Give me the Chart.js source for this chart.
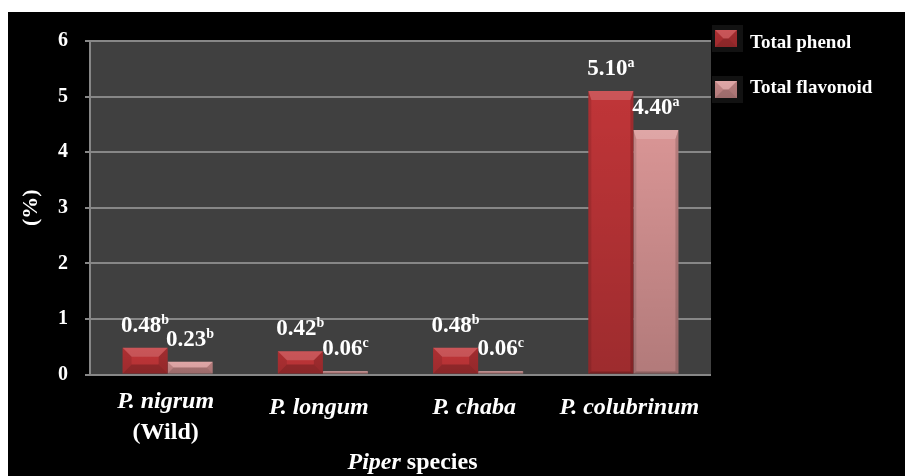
<!DOCTYPE html>
<html>
<head>
<meta charset="utf-8">
<script src="https://cdn.jsdelivr.net/npm/chart.js@4.4.1/dist/chart.umd.min.js"></script>
<style>
    html, body { margin: 0; padding: 0; background: #fff; }
    #wrap { position: absolute; left: 8px; top: 12px; width: 897px; height: 464px; background: #000; }
</style>
</head>
<body>
<div id="wrap"><canvas id="myChart"></canvas></div>
<script>
// data
const species = [['P. nigrum', '(Wild)'], ['P. longum'], ['P. chaba'], ['P. colubrinum']];
const totalPhenol = [0.48, 0.42, 0.48, 5.10];
const totalFlavonoid = [0.23, 0.06, 0.06, 4.40];
const phenolLetters = ['b', 'b', 'b', 'a'];
const flavonoidLetters = ['b', 'c', 'c', 'a'];
const seriesNames = ['Total phenol', 'Total flavonoid'];
const yTickMax = 6;

const SERIF = "'Liberation Serif', 'Times New Roman', serif";
const redColor = '#c03538';
const pinkColor = '#d99595';

function poly(ctx, pts, fill) {
    ctx.beginPath();
    ctx.moveTo(pts[0][0], pts[0][1]);
    for (let i = 1; i < pts.length; i++) ctx.lineTo(pts[i][0], pts[i][1]);
    ctx.closePath();
    ctx.fillStyle = fill;
    ctx.fill();
}

// bevelled "3D" look on top of a plain rectangle
function bevel(ctx, x0, x1, y0, y1) {
    const h = y1 - y0, w = x1 - x0;
    // darker towards the base
    const g = ctx.createLinearGradient(0, y0, 0, y1);
    g.addColorStop(0, 'rgba(0,0,0,0)');
    g.addColorStop(1, h > 40 ? 'rgba(0,0,0,0.18)' : 'rgba(0,0,0,0.08)');
    ctx.fillStyle = g;
    ctx.fillRect(x0, y0, w, h);
    const d = Math.min(9, h / 2, w / 2);
    const s = h > 40 ? 3 : d;
    const b = h > 40 ? 2 : d;
    poly(ctx, [[x0, y0], [x1, y0], [x1 - s, y0 + d], [x0 + s, y0 + d]], 'rgba(255,255,255,0.16)');
    poly(ctx, [[x0, y1], [x1, y1], [x1 - s, y1 - b], [x0 + s, y1 - b]], 'rgba(0,0,0,0.22)');
    poly(ctx, [[x0, y0], [x0 + s, y0 + d], [x0 + s, y1 - b], [x0, y1]], 'rgba(0,0,0,0.10)');
    poly(ctx, [[x1, y0], [x1 - s, y0 + d], [x1 - s, y1 - b], [x1, y1]], 'rgba(0,0,0,0.16)');
}

const darkPlot = {
    id: 'darkPlot',
    beforeDraw(chart) {
        const { ctx, chartArea: a } = chart;
        ctx.save();
        ctx.fillStyle = '#404040';
        ctx.fillRect(a.left, a.top, a.right - a.left, a.bottom - a.top);
        ctx.restore();
    }
};

const bevelBars = {
    id: 'bevelBars',
    afterDatasetsDraw(chart) {
        const ctx = chart.ctx;
        ctx.save();
        chart.data.datasets.forEach((ds, i) => {
            chart.getDatasetMeta(i).data.forEach(bar => {
                const x0 = bar.x - bar.width / 2, x1 = bar.x + bar.width / 2;
                bevel(ctx, x0, x1, bar.y, bar.base);
            });
        });
        ctx.restore();
    }
};

const valueLabels = {
    id: 'valueLabels',
    afterDatasetsDraw(chart) {
        const ctx = chart.ctx;
        const letters = [phenolLetters, flavonoidLetters];
        ctx.save();
        ctx.fillStyle = '#fff';
        ctx.textBaseline = 'alphabetic';
        ctx.textAlign = 'left';
        chart.data.datasets.forEach((ds, i) => {
            chart.getDatasetMeta(i).data.forEach((bar, j) => {
                const num = ds.data[j].toFixed(2);
                const sup = letters[i][j];
                ctx.font = 'bold 23px ' + SERIF;
                const wn = ctx.measureText(num).width;
                ctx.font = 'bold 14px ' + SERIF;
                const ws = ctx.measureText(sup).width;
                const x = bar.x - (wn + ws) / 2;
                const y = bar.y - 16;
                ctx.font = 'bold 23px ' + SERIF;
                ctx.fillText(num, x, y);
                ctx.font = 'bold 14px ' + SERIF;
                ctx.fillText(sup, x + wn, y - 8);
            });
        });
        ctx.restore();
    }
};

const axisText = {
    id: 'axisText',
    afterDraw(chart) {
        const { ctx, chartArea: a } = chart;
        const xs = chart.scales.x;
        ctx.save();
        ctx.fillStyle = '#fff';
        ctx.textAlign = 'center';
        ctx.textBaseline = 'middle';
        species.forEach((lines, i) => {
            const cx = xs.getPixelForValue(i);
            if (lines.length > 1) {
                ctx.font = 'italic bold 24px ' + SERIF;
                ctx.fillText(lines[0], cx - 2, a.bottom + 27);
                ctx.font = 'bold 24px ' + SERIF;
                ctx.fillText(lines[1], cx - 2, a.bottom + 58);
            } else {
                ctx.font = 'italic bold 24px ' + SERIF;
                ctx.fillText(lines[0], cx - 4, a.bottom + 33);
            }
        });
        // x title: "Piper" italic + " species"
        ctx.textAlign = 'left';
        ctx.font = 'italic bold 24px ' + SERIF;
        const w1 = ctx.measureText('Piper').width;
        ctx.font = 'bold 24px ' + SERIF;
        const w2 = ctx.measureText(' species').width;
        const sx = (a.left + a.right) / 2 + 12 - (w1 + w2) / 2;
        const ty = a.bottom + 88;
        ctx.font = 'italic bold 24px ' + SERIF;
        ctx.fillText('Piper', sx, ty);
        ctx.font = 'bold 24px ' + SERIF;
        ctx.fillText(' species', sx + w1, ty);

        // legend
        const colors = [redColor, pinkColor];
        const rows = [
            { iy: 18, ty: 31 },
            { iy: 69, ty: 76 }
        ];
        seriesNames.forEach((name, i) => {
            const ix = a.right + 4;
            const r = rows[i];
            ctx.fillStyle = '#121212';
            ctx.fillRect(ix - 3, r.iy - 5, 31, 27);
            ctx.fillStyle = colors[i];
            ctx.fillRect(ix, r.iy, 22, 17);
            bevel(ctx, ix, ix + 22, r.iy, r.iy + 17);
            ctx.fillStyle = '#fff';
            ctx.font = 'bold 19px ' + SERIF;
            ctx.textAlign = 'left';
            ctx.textBaseline = 'middle';
            ctx.fillText(name, ix + 35, r.ty);
        });
        ctx.restore();
    }
};

const ctx = document.getElementById('myChart');
new Chart(ctx, {
    type: 'bar',
    data: {
        labels: species.map(s => s.join(' ')),
        datasets: [{
            label: seriesNames[0],
            data: totalPhenol,
            backgroundColor: redColor,
            borderWidth: 0,
            categoryPercentage: 0.58,
            barPercentage: 1.0
        }, {
            label: seriesNames[1],
            data: totalFlavonoid,
            backgroundColor: pinkColor,
            borderWidth: 0,
            categoryPercentage: 0.58,
            barPercentage: 1.0
        }]
    },
    options: {
        responsive: true,
        maintainAspectRatio: false,
        animation: false,
        layout: { padding: { left: 0, top: 12, right: 194, bottom: 0 } },
        scales: {
            x: {
                grid: { display: false },
                border: { display: false },
                ticks: { display: false },
                afterFit: s => { s.height = 101.5; }
            },
            y: {
                min: 0,
                max: yTickMax,
                ticks: {
                    stepSize: 1,
                    color: '#fff',
                    padding: 17,
                    font: { family: SERIF, size: 20, weight: 'bold' }
                },
                grid: { color: '#878787', lineWidth: 2, tickLength: 5 },
                border: { color: '#878787', width: 2 },
                title: {
                    display: true,
                    text: '(%)',
                    color: '#fff',
                    font: { family: SERIF, size: 22, weight: 'bold' },
                    padding: { top: 10, bottom: 0 }
                },
                afterFit: s => { s.width = 82; }
            }
        },
        plugins: {
            legend: { display: false },
            tooltip: { enabled: false }
        }
    },
    plugins: [darkPlot, bevelBars, valueLabels, axisText]
});
</script>
</body>
</html>
